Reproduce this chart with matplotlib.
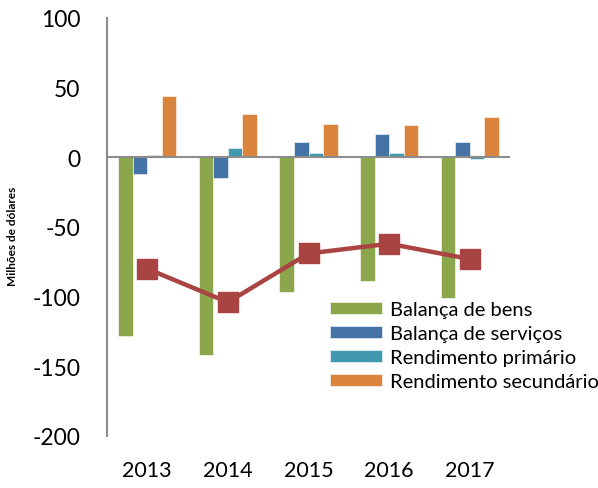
import numpy as np
import matplotlib.pyplot as plt

plt.rcParams['font.family'] = ['Lato', 'DejaVu Sans']
plt.rcParams['axes.unicode_minus'] = False

years = ['2013', '2014', '2015', '2016', '2017']
balanca_bens = [-128, -142, -97, -89, -101]
balanca_servicos = [-12, -15, 11, 17, 11]
rendimento_primario = [2, 6.5, 3, 3, -1.5]
rendimento_secundario = [44, 31, 24, 23.5, 29]
saldo = [-80, -104, -69, -62, -73]

series = [
    ('Balança de bens', balanca_bens, '#8BA64B'),
    ('Balança de serviços', balanca_servicos, '#4572A7'),
    ('Rendimento primário', rendimento_primario, '#4198AF'),
    ('Rendimento secundário', rendimento_secundario, '#DB843D'),
]

fig = plt.figure(figsize=(5.98, 4.89), dpi=100)
ax = fig.add_axes([107 / 598, 1 - 437 / 489, (510 - 107) / 598, (437 - 19) / 489])

x = np.arange(len(years))
w = 0.18
for i, (label, vals, color) in enumerate(series):
    ax.bar(x + (i - 1.5) * w, vals, w, color=color, label=label,
           edgecolor='white', linewidth=0.4)

ax.plot(x, saldo, color='#A94442', linewidth=3.2, marker='s', markersize=15,
        markeredgecolor='#A94442', zorder=5)

ax.set_xlim(-0.5, 4.5)
ax.set_ylim(-200, 100)
ax.set_yticks(np.arange(-200, 101, 50))
ax.set_xticks(x)
ax.set_xticklabels(years)

for side in ['top', 'right', 'bottom']:
    ax.spines[side].set_visible(False)
ax.spines['left'].set_color('#8C8C8C')
ax.spines['left'].set_linewidth(1.5)
ax.axhline(0, color='#8C8C8C', linewidth=1.5, zorder=4)

ax.tick_params(axis='y', length=0, pad=19, labelsize=16.5)
ax.tick_params(axis='x', length=0, pad=17, labelsize=15.5)

fig.text(13 / 598, 1 - 236 / 489, 'Milhões de dólares', rotation=90,
         fontsize=8.5, fontweight='bold', ha='center', va='center')

ax.legend(loc='upper left', bbox_to_anchor=(330 / 598, 1 - 302 / 489),
          bbox_transform=fig.transFigure, frameon=False, fontsize=14.5,
          handlelength=2.6, handleheight=0.55, handletextpad=0.4,
          labelspacing=0.35, borderpad=0, borderaxespad=0)

plt.savefig('out.png', dpi=100)
